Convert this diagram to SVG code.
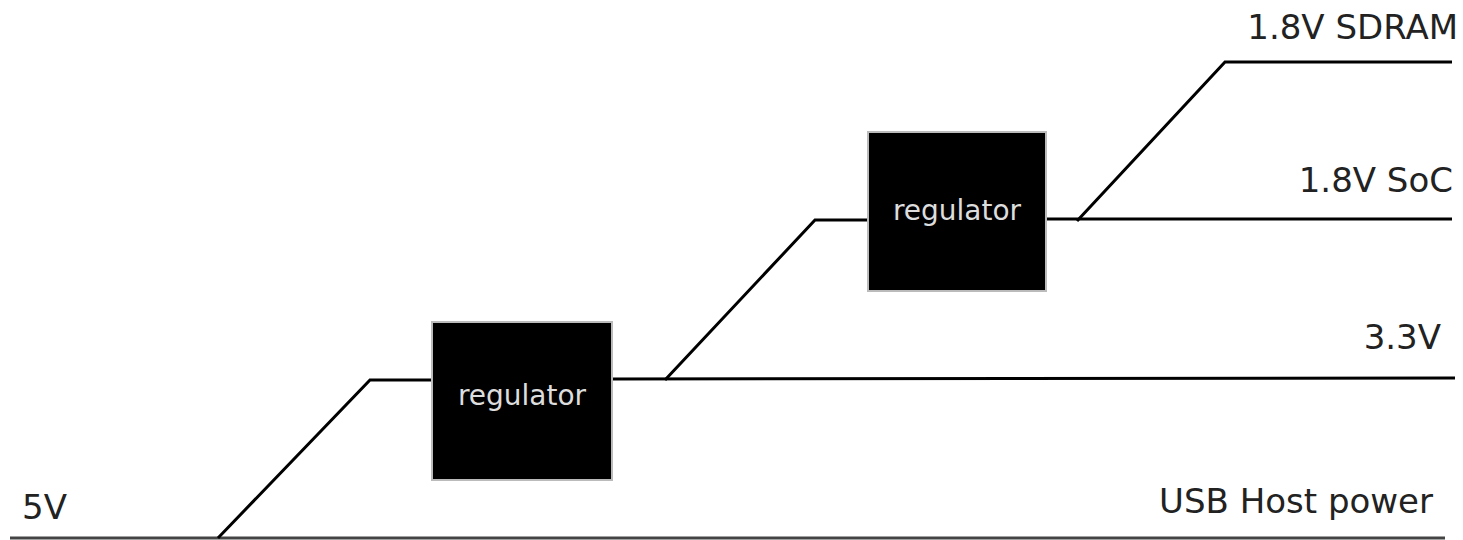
<svg xmlns="http://www.w3.org/2000/svg" width="1463" height="540" viewBox="0 0 1463 540">
<style>
.w{fill:none;stroke:#000;stroke-width:3}
.b{fill:#000;stroke:#bbb;stroke-width:2}
.lbl{font-family:"DejaVu Sans",sans-serif;font-size:34px;fill:#222}
.rl{font-family:"DejaVu Sans",sans-serif;font-size:28px;fill:#ddd;text-anchor:middle}
</style>
<rect width="1463" height="540" fill="#fff"/>
<g id="connectors">
<line class="w" x1="10" y1="538" x2="1445" y2="538" stroke="#555" style="stroke:#444"/>
<polyline class="w" points="218,538 370,380 432,380"/>
<line class="w" x1="612" y1="379" x2="1455" y2="378"/>
<polyline class="w" points="665,380 815,220 868,220"/>
<line class="w" x1="1046" y1="219" x2="1452" y2="219"/>
<polyline class="w" points="1077,221 1225,62 1452,62"/>
</g>
<g id="reg1">
<rect class="b" x="432" y="322" width="180" height="158"/>
<text class="rl" x="522" y="405">regulator</text>
</g>
<g id="reg2">
<rect class="b" x="868" y="132" width="178" height="159"/>
<text class="rl" x="957" y="220">regulator</text>
</g>
<g id="labels">
<text class="lbl" x="22" y="519">5V</text>
<text class="lbl" x="1433" y="513" text-anchor="end">USB Host power</text>
<text class="lbl" x="1441" y="349" text-anchor="end">3.3V</text>
<text class="lbl" x="1453" y="192" text-anchor="end">1.8V SoC</text>
<text class="lbl" x="1458" y="39" text-anchor="end">1.8V SDRAM</text>
</g>
</svg>
